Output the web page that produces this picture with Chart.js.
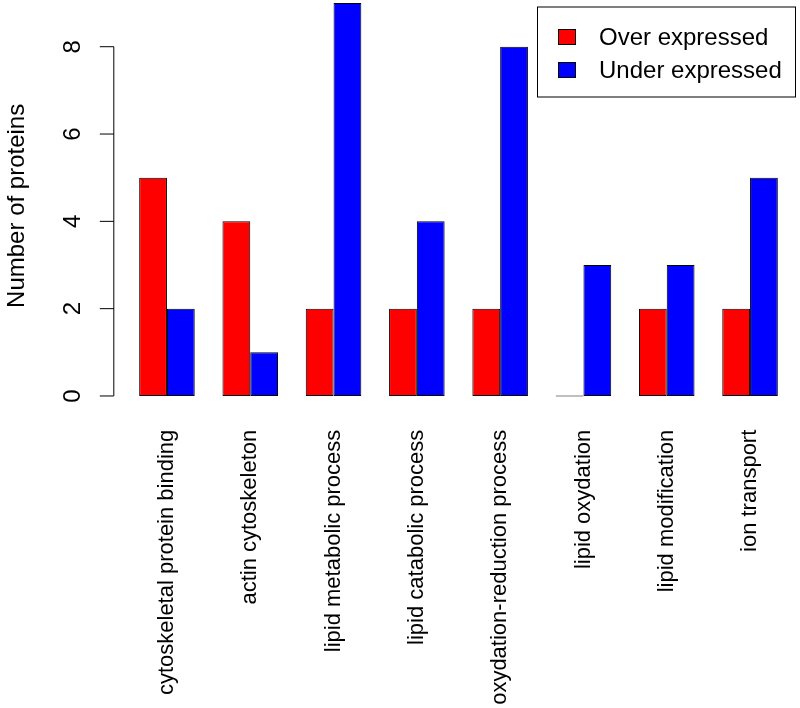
<!DOCTYPE html>
<html>
<head>
<meta charset="utf-8">
<script src="https://cdn.jsdelivr.net/npm/chart.js@4.4.1/dist/chart.umd.min.js"></script>
<style>
  html, body { margin: 0; padding: 0; background: #fff; }
</style>
</head>
<body>
<canvas id="proteinChart" width="800" height="708"></canvas>
<script>
// data
const categories = [
  "cytoskeletal protein binding",
  "actin cytoskeleton",
  "lipid metabolic process",
  "lipid catabolic process",
  "oxydation-reduction process",
  "lipid oxydation",
  "lipid modification",
  "ion transport",
];
const overExpressed = [5, 4, 2, 2, 2, 0, 2, 2];
const underExpressed = [2, 1, 9, 4, 8, 3, 3, 5];
const seriesNames = ["Over expressed", "Under expressed"];
const seriesColors = ["#ff0000", "#0000ff"];
const yTicks = [0, 2, 4, 6, 8];

const FONT = "'Liberation Sans', Arial, Helvetica, sans-serif";

// R style y axis: line only from first to last tick, sitting a bit left of the bars
const rAxis = {
  id: "rAxis",
  afterDraw(chart) {
    const ctx = chart.ctx;
    const y = chart.scales.y;
    const x0 = chart.chartArea.left - 11.5;
    ctx.save();
    ctx.strokeStyle = "#000";
    ctx.lineWidth = 1;
    ctx.beginPath();
    ctx.moveTo(x0, y.getPixelForValue(yTicks[0]));
    ctx.lineTo(x0, y.getPixelForValue(yTicks[yTicks.length - 1]));
    yTicks.forEach((v) => {
      const p = y.getPixelForValue(v);
      ctx.moveTo(x0 - 14, p);
      ctx.lineTo(x0, p);
    });
    ctx.stroke();
    ctx.restore();
  },
};

// boxed legend in the top right corner
const boxLegend = {
  id: "boxLegend",
  afterDraw(chart) {
    const ctx = chart.ctx;
    const left = 537, top = 6.5, w = 258, h = 90;
    ctx.save();
    ctx.fillStyle = "#fff";
    ctx.fillRect(left, top, w, h);
    ctx.strokeStyle = "#000";
    ctx.lineWidth = 1;
    ctx.strokeRect(left + 0.5, top + 0.5, w, h);
    ctx.font = "24px " + FONT;
    ctx.textBaseline = "middle";
    chart.data.datasets.forEach((ds, i) => {
      const cy = 37 + i * 33;
      ctx.fillStyle = ds.backgroundColor;
      ctx.fillRect(558.5, cy - 7.5, 17, 15);
      ctx.strokeRect(558.5, cy - 7.5, 17, 15);
      ctx.fillStyle = "#000";
      ctx.fillText(ds.label, 599, cy + 1);
    });
    ctx.restore();
  },
};

const ctx = document.getElementById("proteinChart").getContext("2d");
const proteinChart = new Chart(ctx, {
  type: "bar",
  data: {
    labels: categories,
    datasets: [
      {
        label: seriesNames[0],
        data: overExpressed,
        backgroundColor: seriesColors[0],
        borderColor: "#000",
        borderWidth: 1,
        borderSkipped: false,
        minBarLength: 1,
      },
      {
        label: seriesNames[1],
        data: underExpressed,
        backgroundColor: seriesColors[1],
        borderColor: "#000",
        borderWidth: 1,
        borderSkipped: false,
        minBarLength: 1,
      },
    ],
  },
  options: {
    responsive: false,
    animation: false,
    events: [],
    categoryPercentage: 0.667,
    barPercentage: 1,
    layout: {
      padding: { top: 0, right: 8.3, left: 0, bottom: 0 },
    },
    plugins: {
      legend: { display: false },
      tooltip: { enabled: false },
    },
    scales: {
      x: {
        grid: { display: false, drawTicks: false },
        border: { display: false },
        ticks: {
          autoSkip: false,
          minRotation: 90,
          maxRotation: 90,
          padding: 18,
          color: "#000",
          font: { family: FONT, size: 22 },
        },
        afterFit(scale) {
          scale.height = 296.3;
          scale.paddingLeft = 0;
          scale.paddingRight = 0;
        },
      },
      y: {
        min: -0.36,
        max: 9.07,
        grid: { display: false, drawTicks: false },
        border: { display: false },
        ticks: {
          minRotation: 90,
          maxRotation: 90,
          crossAlign: "center",
          padding: 45,
          color: "#000",
          font: { family: FONT, size: 24 },
        },
        afterBuildTicks(scale) {
          scale.ticks = yTicks.map((v) => ({ value: v }));
        },
        title: {
          display: true,
          text: "Number of proteins",
          color: "#000",
          padding: { top: 3, bottom: 0 },
          font: { family: FONT, size: 24 },
        },
        afterFit(scale) {
          scale.width = 125.3;
          scale.paddingTop = 0;
          scale.paddingBottom = 0;
        },
      },
    },
  },
  plugins: [rAxis, boxLegend],
});
</script>
</body>
</html>
